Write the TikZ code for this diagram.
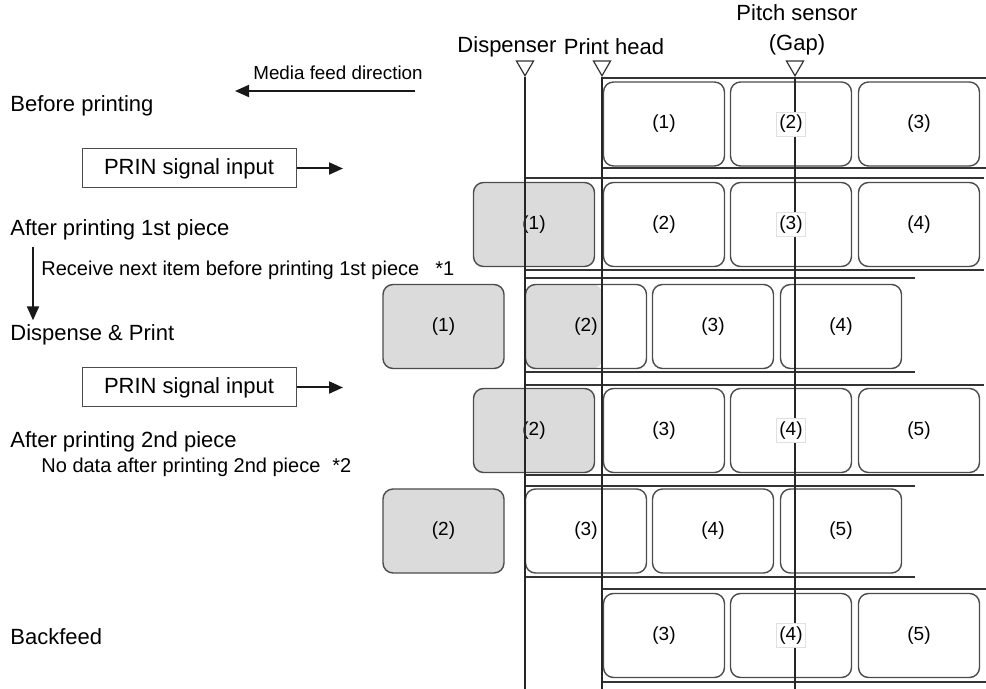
\documentclass[tikz,border=0pt]{standalone}
\usepackage{fontspec}
\setmainfont{Liberation Sans}
\usepackage{xcolor}
\usetikzlibrary{arrows.meta,positioning,calc,shapes.geometric}

\begin{document}
\begin{tikzpicture}[
  x=0.5pt,y=-0.5pt,
  stage/.style={anchor=west, inner sep=0pt, font=\fontsize{11}{13}\selectfont},
  note/.style={anchor=west, inner sep=0pt, font=\fontsize{10}{12}\selectfont},
  signal/.style={draw=black!70, line width=0.5pt, minimum width=107pt, minimum height=19.5pt, inner sep=0pt, font=\fontsize{11}{13}\selectfont},
  piece/.style={draw=black!70, line width=0.7pt, rounded corners=5pt, minimum width=60.5pt, minimum height=42pt, inner sep=0pt, fill=white, font=\fontsize{9.5}{11}\selectfont},
  printed/.style={piece, fill=black!14},
  halfprinted/.style={piece, path picture={\fill[black!14] (path picture bounding box.south west) rectangle ([xshift=38.5pt]path picture bounding box.north west);}},
  gaptag/.style={fill=white, draw=black!12, line width=0.3pt, inner sep=1.5pt, font=\fontsize{9.5}{11}\selectfont},
  liner/.style={draw=black!80, line width=0.7pt},
  guide/.style={draw=black!85, line width=0.75pt},
  sensor/.style={regular polygon, regular polygon sides=3, shape border rotate=180, draw=black!80, line width=0.6pt, minimum size=9.8pt, inner sep=0pt, fill=white},
  arrow/.style={-{Triangle[length=7pt,width=6pt]}, line width=1pt, draw=black!90}
]
\useasboundingbox (0,0) rectangle (986,689);
\coordinate (bottom) at (0,689);

% left column
\node[stage] (before) at (10,106) {Before printing};
\node[font=\fontsize{9.4}{11}\selectfont, inner sep=0pt] (feedtxt) at (338,73) {Media feed direction};
\coordinate (feedtail) at (415,91);
\coordinate (feedhead) at (235,91);
\draw[arrow] (feedtail) -- (feedhead);
\node[signal] (prin1) at (189,168.5) {PRIN signal input};
\coordinate (prin1end) at (343,168.5);
\draw[arrow] (prin1) -- (prin1end);
\node[stage] (after1) at (10,230) {After printing 1st piece};
\node[note] (recv) at (41,270) {Receive next item before printing 1st piece\hspace{8pt}*1};
\node[stage] (dispense) at (10,335) {Dispense \& Print};
\draw[arrow, shorten <=3pt, shorten >=2pt] ([xshift=11.5pt]after1.south west) -- ([xshift=11.5pt]dispense.north west);
\node[signal] (prin2) at (189,387.5) {PRIN signal input};
\coordinate (prin2end) at (343,387.5);
\draw[arrow] (prin2) -- (prin2end);
\node[stage] (after2) at (10,442) {After printing 2nd piece};
\node[note] (nodata) at (41,467) {No data after printing 2nd piece\hspace{6pt}*2};
\node[stage] (backfeed) at (10,637) {Backfeed};

% liner strips
\draw[liner] (602,78) -- (986,78) (602,168) -- (986,168);
\draw[liner] (525,178) -- (984,178) (525,270) -- (984,270);
\draw[liner] (525,278) -- (915,278) (525,372) -- (915,372);
\draw[liner] (525,385) -- (984,385) (525,475) -- (984,475);
\draw[liner] (525,486) -- (915,486) (525,577) -- (915,577);
\draw[liner] (602,589) -- (986,589) (602,682) -- (986,682);

% labels
\node[piece] (r1a) at (664,124) {(1)};
\node[piece] (r1b) at (791,124) {};
\node[piece] (r1c) at (919,124) {(3)};
\node[printed] (r2a) at (534,224.5) {(1)};
\node[piece] (r2b) at (664,224.5) {(2)};
\node[piece] (r2c) at (791,224.5) {};
\node[piece] (r2d) at (919,224.5) {(4)};
\node[printed] (r3a) at (443.5,326.5) {(1)};
\node[halfprinted] (r3b) at (586,326.5) {(2)};
\node[piece] (r3c) at (713,326.5) {(3)};
\node[piece] (r3d) at (841,326.5) {(4)};
\node[printed] (r4a) at (534,430.5) {(2)};
\node[piece] (r4b) at (664,430.5) {(3)};
\node[piece] (r4c) at (791,430.5) {};
\node[piece] (r4d) at (919,430.5) {(5)};
\node[printed] (r5a) at (443.5,531) {(2)};
\node[piece] (r5b) at (586,531) {(3)};
\node[piece] (r5c) at (713,531) {(4)};
\node[piece] (r5d) at (841,531) {(5)};
\node[piece] (r6a) at (664,635.5) {(3)};
\node[piece] (r6b) at (791,635.5) {};
\node[piece] (r6c) at (919,635.5) {(5)};

% sensors
\node[sensor] (disp) at (525,66) {};
\node[sensor] (head) at (602,66) {};
\node[sensor] (pitch) at (795,66) {};
\node[font=\fontsize{11}{13}\selectfont, inner sep=0pt] (displbl) at (507,47) {Dispenser};
\node[font=\fontsize{11}{13}\selectfont, inner sep=0pt] (headlbl) at (614,47) {Print head};
\node[font=\fontsize{11}{15}\selectfont, inner sep=0pt, align=center] (pitchlbl) at (797,30) {Pitch sensor\\(Gap)};
\draw[guide] (disp.corner 1) -- (disp.corner 1 |- bottom);
\draw[guide] (head.corner 1) -- (head.corner 1 |- bottom);
\draw[guide] (pitch.corner 1) -- (pitch.corner 1 |- bottom);

\node[gaptag] (r1tag) at (r1b) {(2)};
\node[gaptag] (r2tag) at (r2c) {(3)};
\node[gaptag] (r4tag) at (r4c) {(4)};
\node[gaptag] (r6tag) at (r6b) {(4)};
\end{tikzpicture}
\end{document}
